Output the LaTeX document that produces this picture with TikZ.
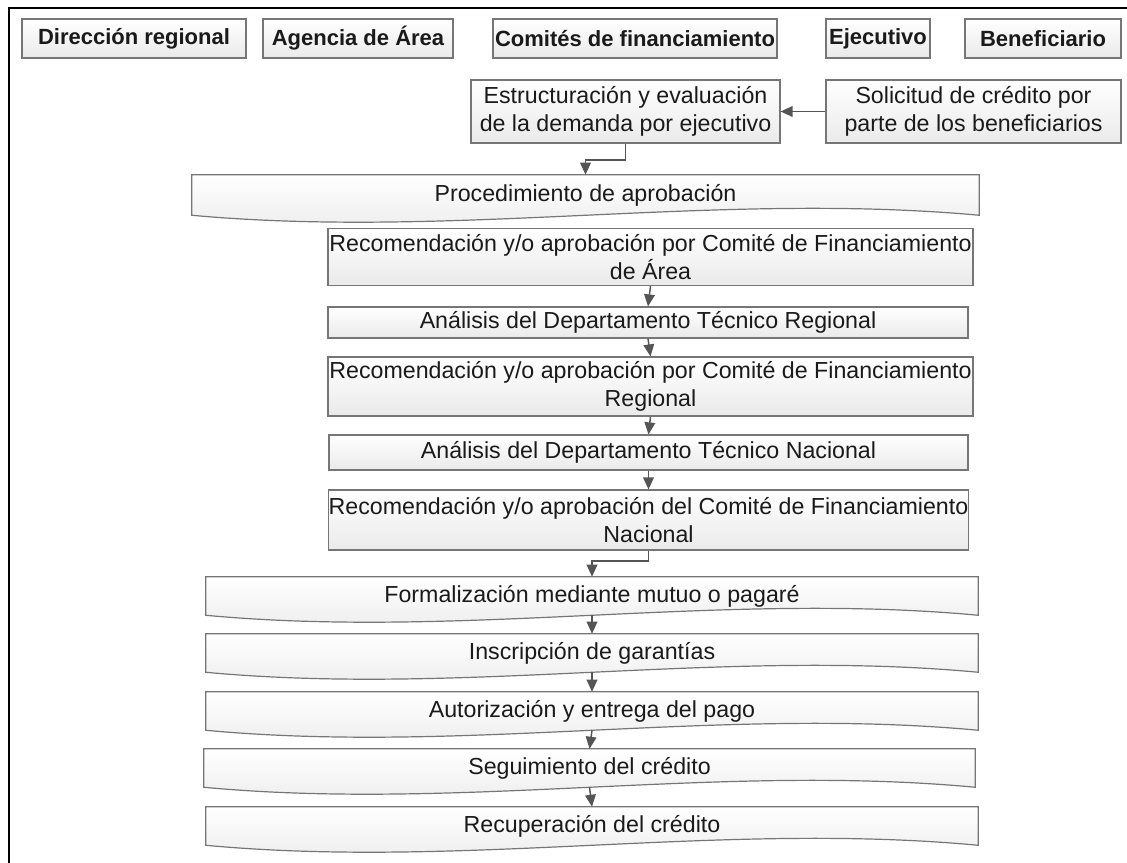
\documentclass[tikz,border=0pt]{standalone}
\usepackage{fontspec}
\setmainfont{Liberation Sans}
\usetikzlibrary{arrows.meta,calc}
\pgfdeclarelayer{background}
\pgfsetlayers{background,main}
\definecolor{boxline}{HTML}{767676}
\definecolor{boxbot}{HTML}{EAEAEA}
\definecolor{connc}{HTML}{555555}
\definecolor{txt}{HTML}{1A1A1A}
\tikzset{
  sz/.style 2 args={minimum width=#1*0.75pt, minimum height=#2*0.75pt},
  plain/.style={rectangle, inner sep=0pt, align=center, text=txt,
    font=\fontsize{17.4}{21}\selectfont},
  flowbox/.style={plain, draw=boxline, line width=0.9pt, top color=white, bottom color=boxbot},
  hdrbox/.style={flowbox, font=\fontsize{16.5}{20}\selectfont\bfseries},
  docnode/.style={plain},
  docbox/.style={draw=boxline, line width=0.9pt, top color=white, bottom color=boxbot},
  conn/.style={draw=connc, line width=1.1pt, -{Triangle[length=9pt,width=8pt]}},
  frame/.style={draw=black, line width=2pt}
}
\newcommand\docshape[1]{%
  \begin{pgfonlayer}{background}
  \path[docbox] (#1.north west) -- (#1.north east) -- (#1.south east)
    .. controls ($(#1.south east)!0.333!(#1.south west)+(0,-24)$) and ($(#1.south east)!0.667!(#1.south west)+(0,24)$) .. (#1.south west) -- cycle;
  \end{pgfonlayer}}
\begin{document}
\begin{tikzpicture}[x=0.75pt,y=-0.75pt]
\useasboundingbox (0,0) rectangle (1127,863);
% frame
\draw[frame] (9,863) -- (9,8) -- (1127,8);
% headers
\node[hdrbox, sz={224}{39}] (h1) at (134,38.5) {Dirección regional};
\node[hdrbox, sz={190}{39}] (h2) at (358,38.5) {Agencia de Área};
\node[hdrbox, sz={284}{39}] (h3) at (635,38.5) {Comités de financiamiento};
\node[hdrbox, sz={104}{39}] (h4) at (878,38.5) {Ejecutivo};
\node[hdrbox, sz={156}{39}] (h5) at (1043,38.5) {Beneficiario};
% top boxes
\node[flowbox, sz={309}{63}] (est) at (625.5,111.5) {Estructuración y evaluación\\de la demanda por ejecutivo};
\node[flowbox, sz={295}{63}] (sol) at (973.5,111.5) {Solicitud de crédito por\\parte de los beneficiarios};
% procedure
\node[docnode, sz={787}{40}] (proc) at (585.5,195) {Procedimiento de aprobación};
\docshape{proc}
\node[flowbox, sz={645}{57}] (recA) at (650.5,257) {Recomendación y/o aprobación por Comité de Financiamiento\\de Área};
\node[flowbox, sz={640}{31}] (anaR) at (648,322.5) {Análisis del Departamento Técnico Regional};
\node[flowbox, sz={645}{59}] (recR) at (650.5,386.5) {Recomendación y/o aprobación por Comité de Financiamiento\\Regional};
\node[flowbox, sz={639}{35}] (anaN) at (648.5,452.5) {Análisis del Departamento Técnico Nacional};
\node[flowbox, sz={639}{60}] (recN) at (648.5,520) {Recomendación y/o aprobación del Comité de Financiamiento\\Nacional};
% lower documents
\node[docnode, sz={772}{38}] (form) at (592,596) {Formalización mediante mutuo o pagaré};
\docshape{form}
\node[docnode, sz={772}{38}] (insc) at (592,653) {Inscripción de garantías};
\docshape{insc}
\node[docnode, sz={772}{38}] (aut) at (592,711) {Autorización y entrega del pago};
\docshape{aut}
\node[docnode, sz={771}{38}] (seg) at (589.5,768) {Seguimiento del crédito};
\docshape{seg}
\node[docnode, sz={772}{38}] (rec) at (592,826) {Recuperación del crédito};
\docshape{rec}
% connectors
\coordinate (b1) at (625.5,160);
\coordinate (b2) at (648.5,561);
\draw[conn] (sol.west) -- (est.east);
\draw[conn] (est.south) -- (b1) -| (proc.north);
\draw[conn] (recA.south) -- (anaR.north);
\draw[conn] (anaR.south) -- (recR.north);
\draw[conn] (recR.south) -- (anaN.north);
\draw[conn] (anaN.south) -- (recN.north);
\draw[conn] (recN.south) -- (b2) -| (form.north);
\draw[conn] (form.south) -- (insc.north);
\draw[conn] (insc.south) -- (aut.north);
\draw[conn] (aut.south) -- (seg.north);
\draw[conn] (seg.south) -- (rec.north);
\end{tikzpicture}
\end{document}
